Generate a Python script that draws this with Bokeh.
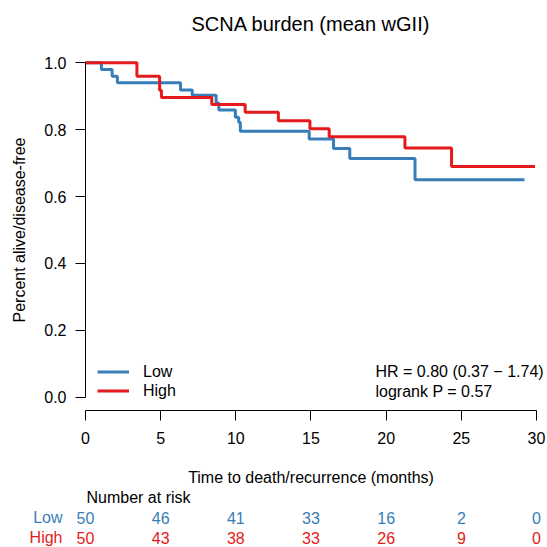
from bokeh.plotting import figure
from bokeh.models import Range1d, FixedTicker, PrintfTickFormatter, Label, Legend, LegendItem
from bokeh.core.properties import value
from bokeh.embed import file_html
from bokeh.resources import INLINE

# ---------------- data ----------------
title_text = "SCNA burden (mean wGII)"
group_names = ["Low", "High"]

low_times = [1.06, 1.77, 2.12, 6.32, 7.10, 8.69, 8.87, 9.97, 10.19, 10.30, 14.88, 16.50, 17.58, 21.92]
low_surv = [0.980, 0.960, 0.940, 0.919, 0.903, 0.880, 0.859, 0.837, 0.822, 0.795, 0.772, 0.744, 0.714, 0.650]
low_end = 29.2

high_times = [3.42, 4.93, 5.05, 8.40, 10.62, 12.83, 14.93, 16.21, 21.25, 24.35]
high_surv = [0.960, 0.918, 0.896, 0.875, 0.852, 0.827, 0.803, 0.779, 0.745, 0.690]
high_end = 29.9

risk_times = [0, 5, 10, 15, 20, 25, 30]
low_risk = [50, 46, 41, 33, 16, 2, 0]
high_risk = [50, 43, 38, 33, 26, 9, 0]

x_ticks = [0, 5, 10, 15, 20, 25, 30]
y_ticks = [0.0, 0.2, 0.4, 0.6, 0.8, 1.0]

hr_text = "HR = 0.80 (0.37 \u2212 1.74)"
p_text = "logrank P = 0.57"
x_label = "Time to death/recurrence (months)"
y_label = "Percent alive/disease-free"
risk_title = "Number at risk"

# ---------------- layout / style constants ----------------
LOW_C = "#377EB8"
HIGH_C = "#E41A1C"
FONT = "Liberation Sans"
FS = "16px"

W = H = 547
X0_PX = 85.0        # canvas x of time 0
PX_PER_X = 15.033   # px per month
Y1_PX = 62.3        # canvas y of survival 1.0
PX_PER_Y = 334.4    # px per unit survival
Y0_PX = Y1_PX + PX_PER_Y

def ypx(py):
    """data y for a canvas row (layout helper for annotations)"""
    return (Y0_PX - py) / PX_PER_Y

def xpx(px):
    return (px - X0_PX) / PX_PER_X

p = figure(width=W, height=H, output_backend="svg", toolbar_location=None,
           x_range=Range1d(xpx(0), xpx(W)), y_range=Range1d(ypx(H), ypx(0)),
           min_border=0, min_border_left=0, min_border_right=0,
           min_border_top=0, min_border_bottom=0)
p.outline_line_color = None
p.xgrid.visible = False
p.ygrid.visible = False

def km_xy(times, surv, end):
    xs = [0.0] + list(times) + [end]
    ys = [1.0] + list(surv) + [surv[-1]]
    return xs, ys

lx, ly = km_xy(low_times, low_surv, low_end)
hx, hy = km_xy(high_times, high_surv, high_end)
r_low = p.step(lx, ly, mode="after", line_color=LOW_C, line_width=3)
r_high = p.step(hx, hy, mode="after", line_color=HIGH_C, line_width=3)

# legend: bottom-left of the survival panel
legend = Legend(items=[LegendItem(label=group_names[0], renderers=[r_low]),
                       LegendItem(label=group_names[1], renderers=[r_high])],
                location=(int(X0_PX) + 12, H - 400), padding=0, margin=0, spacing=0,
                glyph_width=32, glyph_height=19, label_height=19, label_standoff=14,
                label_text_font=FONT, label_text_font_size=FS, label_text_color="black",
                border_line_color=None, background_fill_alpha=0)
p.add_layout(legend)

# axes drawn at fixed data locations (R-style detached axes)
for ax in (p.xaxis[0], p.yaxis[0]):
    ax.axis_line_color = "black"
    ax.axis_line_width = 1
    ax.major_tick_line_color = "black"
    ax.major_tick_out = 10
    ax.major_tick_in = 0
    ax.minor_tick_out = 0
    ax.minor_tick_in = 0
    ax.major_label_text_font = FONT
    ax.major_label_text_font_size = FS
    ax.major_label_text_color = "black"
    ax.axis_label_text_font = FONT
    ax.axis_label_text_font_size = FS
    ax.axis_label_text_font_style = "normal"
    ax.axis_label_text_color = "black"

p.xaxis.ticker = FixedTicker(ticks=x_ticks, minor_ticks=[])
p.xaxis.bounds = (x_ticks[0], x_ticks[-1])
p.xaxis.fixed_location = ypx(410)
p.xaxis.major_label_standoff = 11
p.xaxis.axis_label = x_label
p.xaxis.axis_label_standoff = 22

p.yaxis.ticker = FixedTicker(ticks=y_ticks, minor_ticks=[])
p.yaxis.bounds = (y_ticks[0], y_ticks[-1])
p.yaxis.fixed_location = 0
p.yaxis.formatter = PrintfTickFormatter(format="%.1f")
p.yaxis.major_label_orientation = "horizontal"
p.yaxis.major_label_standoff = 9
p.yaxis.axis_label = y_label
p.yaxis.axis_label_standoff = 13

def add_text(x, y, text, color="black", align="left", size=FS):
    p.add_layout(Label(x=x, y=y, text=text, text_font=FONT, text_font_size=size,
                       text_color=color, text_baseline="middle", text_align=align))

# title
add_text((x_ticks[0] + x_ticks[-1]) / 2, ypx(23), title_text, align="center", size="20px")

# statistics text
add_text(xpx(375), ypx(371), hr_text)
add_text(xpx(375), ypx(391), p_text)

# number-at-risk table
add_text(xpx(86), ypx(497), risk_title)
for name, vals, col, row_py in ((group_names[0], low_risk, LOW_C, 517.3),
                                (group_names[1], high_risk, HIGH_C, 537.3)):
    add_text(xpx(62), ypx(row_py), name, color=col, align="right")
    for t, v in zip(risk_times, vals):
        add_text(t, ypx(row_py), str(v), color=col, align="center")

open("out.html", "w").write(file_html(p, INLINE))
